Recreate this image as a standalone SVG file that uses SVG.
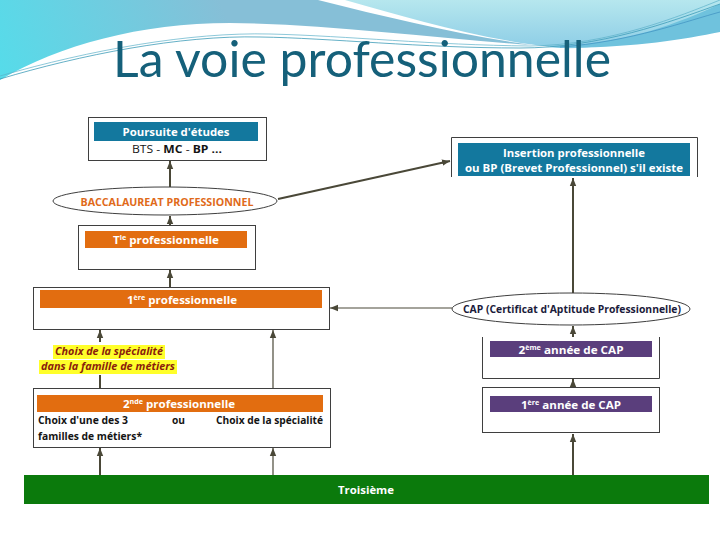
<svg xmlns="http://www.w3.org/2000/svg" width="720" height="540" viewBox="0 0 720 540">
<defs>
<linearGradient id="gBlue" gradientUnits="userSpaceOnUse" x1="220" y1="0" x2="0" y2="85">
<stop offset="0" stop-color="#86bfd7"/>
<stop offset="1" stop-color="#55dcea"/>
</linearGradient>
<linearGradient id="gCyan" x1="0" y1="0" x2="0" y2="1">
<stop offset="0" stop-color="#b6e7ee"/>
<stop offset="1" stop-color="#8dcde6"/>
</linearGradient>
<marker id="arr" markerUnits="userSpaceOnUse" markerWidth="8" markerHeight="8" refX="8" refY="4" orient="auto">
<path d="M0,0.8 L8,4 L0,7.2 z" fill="#4a4838"/>
</marker>
<style>
.box{fill:#ffffff;stroke:#3f3f3f;stroke-width:1}
.open{fill:none;stroke:#3f3f3f;stroke-width:1}
.blue{fill:#13789e}
.orange{fill:#e26d10}
.purple{fill:#5a3e7c}
.bt{font-family:"Open Sans",Lato,"Liberation Sans",sans-serif;font-weight:bold;font-size:10.5px;fill:#ffffff;text-anchor:middle}
.dt{font-family:"Open Sans",Lato,"Liberation Sans",sans-serif;font-weight:bold;font-size:10.5px;fill:#141414}
.sup{font-size:6.5px}
.c{stroke:#4a4838;stroke-width:2;fill:none}
.ct{stroke:#4a4838;stroke-width:1.2;fill:none}
.hl{fill:#ffff2a}
.lab{font-family:"Open Sans",Lato,"Liberation Sans",sans-serif;font-weight:bold;font-style:italic;font-size:10.5px;fill:#8a1c0c;text-anchor:middle}
</style>
</defs>
<rect width="720" height="540" fill="#ffffff"/>
<g id="header">
<path d="M0,0 H318 C390,18 460,35 532,45 C430,38 330,24 230,23 C140,23 60,45 0,80 Z" fill="url(#gBlue)"/>
<path d="M345,0 H720 V8 C670,33 610,50 560,48 C480,40 410,18 345,0 Z" fill="url(#gCyan)"/>
<path d="M545,47 C630,44 680,22 720,4 V32 C680,40 620,50 545,47 Z" fill="#6fc2dd"/>
<path d="M0,79 C80,55 180,35 260,37 C330,38 420,48 520,48 C600,48 670,22 720,4" fill="none" stroke="#3d9cb8" stroke-width="0.8"/>
<path d="M0,76 C90,50 190,32 270,34 C350,36 430,45 530,46 C610,45 680,16 720,0" fill="none" stroke="#5bb0c8" stroke-width="0.7"/>
<path d="M560,47 C630,42 690,20 720,12" fill="none" stroke="#3d8fc0" stroke-width="0.7"/>
<text x="362" y="77" font-family="Lato,'Liberation Sans',sans-serif" font-size="51" fill="#15607a" text-anchor="middle" textLength="498" lengthAdjust="spacingAndGlyphs">La voie professionnelle</text>
</g>
<g id="connectors">
<line class="c" x1="170" y1="187" x2="170" y2="161" marker-end="url(#arr)"/>
<line class="c" x1="170" y1="225" x2="170" y2="216" marker-end="url(#arr)"/>
<line class="c" x1="170" y1="287" x2="170" y2="270" marker-end="url(#arr)"/>
<line class="c" x1="100" y1="342" x2="100" y2="330" marker-end="url(#arr)"/>
<line class="c" x1="100" y1="388" x2="100" y2="375"/>
<line class="ct" x1="273" y1="388" x2="273" y2="330" marker-end="url(#arr)"/>
<line class="c" x1="100" y1="475" x2="100" y2="448" marker-end="url(#arr)"/>
<line class="ct" x1="273" y1="475" x2="273" y2="448" marker-end="url(#arr)"/>
<line class="c" x1="278" y1="199" x2="450" y2="161" marker-end="url(#arr)"/>
<line class="ct" x1="452" y1="308" x2="330" y2="308" marker-end="url(#arr)"/>
<line class="c" x1="573" y1="293" x2="573" y2="178" marker-end="url(#arr)"/>
<line class="c" x1="573" y1="337" x2="573" y2="326" marker-end="url(#arr)"/>
<line class="c" x1="573" y1="387" x2="573" y2="379" marker-end="url(#arr)"/>
<line class="c" x1="573" y1="475" x2="573" y2="434" marker-end="url(#arr)"/>
</g>
<g id="poursuite">
<rect class="box" x="88.5" y="117.5" width="178" height="43"/>
<rect class="blue" x="94" y="122" width="164" height="19"/>
<text class="bt" x="176" y="135.5" textLength="107" lengthAdjust="spacingAndGlyphs">Poursuite d'études</text>
<text class="dt" x="177" y="153" text-anchor="middle" textLength="90" lengthAdjust="spacingAndGlyphs"><tspan font-weight="normal">BTS - </tspan>MC<tspan font-weight="normal"> - </tspan>BP ...</text>
</g>
<g id="bac">
<ellipse cx="165" cy="201" rx="112" ry="14" fill="#ffffff" stroke="#3f3f3f" stroke-width="1"/>
<text x="167" y="205.5" font-family="'Open Sans',Lato,'Liberation Sans',sans-serif" font-weight="bold" font-size="10.5" fill="#e06a1a" text-anchor="middle" textLength="173" lengthAdjust="spacingAndGlyphs">BACCALAUREAT PROFESSIONNEL</text>
</g>
<g id="terminale">
<rect class="box" x="78.5" y="225.5" width="177" height="44"/>
<rect class="orange" x="85" y="231" width="162" height="17"/>
<text class="bt" x="166" y="243.5" textLength="106" lengthAdjust="spacingAndGlyphs">T<tspan class="sup" dy="-4">le</tspan><tspan dy="4"> professionnelle</tspan></text>
</g>
<g id="premiere">
<rect class="box" x="33.5" y="287.5" width="296" height="42"/>
<rect class="orange" x="40" y="290" width="282" height="18"/>
<text class="bt" x="182" y="303.5" textLength="110" lengthAdjust="spacingAndGlyphs">1<tspan class="sup" dy="-4">ère</tspan><tspan dy="4"> professionnelle</tspan></text>
</g>
<g id="choix-specialite">
<rect class="hl" x="53" y="345" width="112" height="14"/>
<rect class="hl" x="39" y="360" width="138" height="14"/>
<text class="lab" x="109" y="355" textLength="108" lengthAdjust="spacingAndGlyphs">Choix de la spécialité</text>
<text class="lab" x="108" y="370" textLength="134" lengthAdjust="spacingAndGlyphs">dans la famille de métiers</text>
</g>
<g id="seconde">
<rect class="box" x="33.5" y="388.5" width="297" height="59"/>
<rect class="orange" x="37" y="395" width="286" height="17"/>
<text class="bt" x="179" y="407.5" textLength="112" lengthAdjust="spacingAndGlyphs">2<tspan class="sup" dy="-4">nde</tspan><tspan dy="4"> professionnelle</tspan></text>
<text class="dt" x="38" y="424" textLength="90" lengthAdjust="spacingAndGlyphs">Choix d'une des 3</text>
<text class="dt" x="172" y="424" textLength="13" lengthAdjust="spacingAndGlyphs">ou</text>
<text class="dt" x="216" y="424" textLength="107" lengthAdjust="spacingAndGlyphs">Choix de la spécialité</text>
<text class="dt" x="38" y="440" textLength="104" lengthAdjust="spacingAndGlyphs">familles de métiers*</text>
</g>
<g id="troisieme">
<rect x="24" y="475" width="685" height="29" fill="#0b7a0c"/>
<text class="bt" x="366" y="494" textLength="56" lengthAdjust="spacingAndGlyphs">Troisième</text>
</g>
<g id="insertion">
<path class="open" d="M451.5,177 V137.5 H697.5 V177"/>
<rect class="blue" x="458" y="143" width="232" height="33"/>
<text class="bt" x="574" y="156.5" textLength="142" lengthAdjust="spacingAndGlyphs">Insertion professionnelle</text>
<text class="bt" x="574" y="171.5" textLength="218" lengthAdjust="spacingAndGlyphs">ou BP (Brevet Professionnel) s'il existe</text>
</g>
<g id="cap">
<ellipse cx="571" cy="309" rx="119" ry="16" fill="#ffffff" stroke="#3f3f3f" stroke-width="1"/>
<text x="572" y="313" font-family="'Open Sans',Lato,'Liberation Sans',sans-serif" font-weight="bold" font-size="10.5" fill="#1b1b3b" text-anchor="middle" textLength="218" lengthAdjust="spacingAndGlyphs">CAP (Certificat d'Aptitude Professionnelle)</text>
</g>
<g id="cap-2e">
<path class="open" d="M482.5,337 V378.5 H659.5 V337"/>
<rect class="purple" x="490" y="341" width="162" height="16"/>
<text class="bt" x="571" y="353.5" textLength="105" lengthAdjust="spacingAndGlyphs">2<tspan class="sup" dy="-4">ème</tspan><tspan dy="4"> année de CAP</tspan></text>
</g>
<g id="cap-1re">
<rect class="box" x="482.5" y="387.5" width="177" height="45"/>
<rect class="purple" x="490" y="396" width="162" height="16"/>
<text class="bt" x="571" y="408.5" textLength="100" lengthAdjust="spacingAndGlyphs">1<tspan class="sup" dy="-4">ère</tspan><tspan dy="4"> année de CAP</tspan></text>
</g>
</svg>
